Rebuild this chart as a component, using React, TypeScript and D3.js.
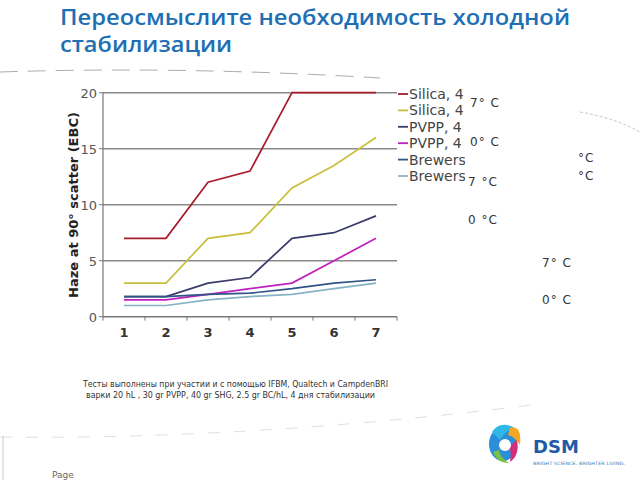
import React from "react";
import * as d3 from "d3";

const categories = ["1", "2", "3", "4", "5", "6", "7"];
const yTicks = [0, 5, 10, 15, 20];
const seriesNames = ["Silica, 4", "Silica, 4", "PVPP, 4 (", "PVPP, 4 (", "Brewers", "Brewers"];
const silica7 = [7, 7, 12, 13, 20, 20, 20];
const silica0 = [3, 3, 7, 7.5, 11.5, 13.5, 16];
const pvpp7 = [1.8, 1.8, 3, 3.5, 7, 7.5, 9];
const pvpp0 = [1.5, 1.5, 2, 2.5, 3, 5, 7];
const brewers7 = [1.8, 1.8, 2, 2.1, 2.5, 3, 3.3];
const brewers0 = [1, 1, 1.5, 1.8, 2, 2.5, 3];
const seriesColors = ["#a81c2a", "#c9bf3c", "#3b3b6e", "#c21fc0", "#2f5588", "#86b3c4"];
const tempLabels = ["7° C", "0° C", "7 °C", "0 °C", "°C", "°C", "7° C", "0° C"];

const titleLine1 = "Переосмыслите необходимость холодной";
const titleLine2 = "стабилизации";
const note1 = "Тесты выполнены при участии и с помощью IFBM, Qualtech и CampdenBRI";
const note2 = "варки 20 hL , 30 gr PVPP, 40 gr SHG, 2.5 gr BC/hL, 4 дня стабилизации";

export default function App() {
  const series = [silica7, silica0, pvpp7, pvpp0, brewers7, brewers0];
  const x0 = 103, x1 = 397, yTop = 92.7, yBot = 316.7;
  const x = d3.scaleBand().domain(categories).range([x0, x1]);
  const y = d3.scaleLinear().domain([0, 20]).range([yBot, yTop]);
  const line = d3
    .line<number>()
    .x((_, i) => (x(categories[i]) as number) + x.bandwidth() / 2)
    .y((d) => y(d));
  const font = "Verdana, 'DejaVu Sans', sans-serif";
  const tempPos = [
    [470, 107], [470, 146], [468, 186], [468, 224], [578, 162], [578, 180], [542, 267], [542, 304],
  ];
  return (
    <svg
      width={640}
      height={480}
      style={{ position: "absolute", left: 0, top: 0, background: "#fff" }}
      fontFamily={font}
    >
      <defs>
        <clipPath id="legclip">
          <rect x={380} y={80} width={85} height={110} />
        </clipPath>
      </defs>
      <rect width={640} height={480} fill="#fff" />
      {/* title */}
      <text x={60} y={25} fontSize={21} fontWeight={600} fill="#1e6fb4" fontFamily="'Open Sans', sans-serif" textLength={510} lengthAdjust="spacingAndGlyphs">
        {titleLine1}
      </text>
      <text x={60} y={52} fontSize={21} fontWeight={600} fill="#1e6fb4" fontFamily="'Open Sans', sans-serif" textLength={172} lengthAdjust="spacingAndGlyphs">
        {titleLine2}
      </text>
      {/* decorative dashed curves */}
      <path d="M0,72 Q180,66 380,78" fill="none" stroke="#888" strokeWidth={1} strokeDasharray="18 10" opacity={0.7} />
      <path d="M580,112 Q615,118 640,132" fill="none" stroke="#999" strokeWidth={0.8} strokeDasharray="3 2" opacity={0.7} />
      <path d="M0,437 Q250,440 540,404" fill="none" stroke="#bbb" strokeWidth={0.8} strokeDasharray="12 14" opacity={0.6} />
      <line x1={3} y1={436} x2={3} y2={480} stroke="#ccc" strokeWidth={1} />
      {/* gridlines */}
      {yTicks.map((t) => (
        <line key={"g" + t} x1={x0} x2={x1} y1={y(t)} y2={y(t)} stroke={t === 0 ? "#777" : "#8a8a8a"} strokeWidth={1.5} />
      ))}
      <line x1={x0} x2={x0} y1={yTop} y2={yBot} stroke="#777" strokeWidth={1.2} />
      {categories.map((c) => (
        <line key={"tk" + c} x1={x(c) as number} x2={x(c) as number} y1={yBot} y2={yBot + 4} stroke="#777" strokeWidth={1} />
      ))}
      <line x1={x1} x2={x1} y1={yBot} y2={yBot + 4} stroke="#777" strokeWidth={1} />
      {yTicks.map((t) => (
        <line key={"yt" + t} x1={x0 - 4} x2={x0} y1={y(t)} y2={y(t)} stroke="#777" strokeWidth={1} />
      ))}
      {/* y tick labels */}
      {yTicks.map((t) => (
        <text key={"yl" + t} x={97} y={y(t) + 5} fontSize={13} fill="#555" textAnchor="end">
          {t}
        </text>
      ))}
      {/* x tick labels */}
      {categories.map((c) => (
        <text key={"xl" + c} x={(x(c) as number) + x.bandwidth() / 2} y={337} fontSize={13} fontWeight="bold" fill="#333" textAnchor="middle">
          {c}
        </text>
      ))}
      <text transform="translate(78,205) rotate(-90)" fontSize={13} fontWeight="bold" fill="#222" textAnchor="middle">
        Haze at 90° scatter (EBC)
      </text>
      {/* series */}
      {series.map((s, i) => (
        <path key={"s" + i} d={line(s) as string} fill="none" stroke={seriesColors[i]} strokeWidth={1.7} />
      ))}
      {/* legend */}
      <g clipPath="url(#legclip)">
        {seriesNames.map((n, i) => (
          <g key={"lg" + i}>
            <line x1={398} x2={408} y1={94 + i * 16.4} y2={94 + i * 16.4} stroke={seriesColors[i]} strokeWidth={1.8} />
            <text x={409} y={99 + i * 16.4} fontSize={14} fill="#444" fontFamily="'DejaVu Sans', sans-serif">
              {n}
            </text>
          </g>
        ))}
      </g>
      {tempPos.map((p, i) => (
        <text key={"tl" + i} x={p[0]} y={p[1]} fontSize={12} fill="#333" fontFamily="'DejaVu Sans', sans-serif" letterSpacing={1}>
          {tempLabels[i]}
        </text>
      ))}
      {/* notes */}
      <text x={83} y={387} fontSize={8} fill="#333" textLength={305} lengthAdjust="spacingAndGlyphs">
        {note1}
      </text>
      <text x={86} y={398} fontSize={8} fill="#333" textLength={289} lengthAdjust="spacingAndGlyphs">
        {note2}
      </text>
      <text x={52} y={478} fontSize={9} fill="#666">Page</text>
      {/* DSM logo */}
      <g>
        <ellipse cx={503} cy={444} rx={14} ry={17} fill="#2a8fd8" />
        <path d="M492,432 Q500,420 515,428 Q506,430 500,440 Z" fill="#2fb7e8" />
        <path d="M510,428 Q522,425 520,445 Q514,436 508,435 Z" fill="#f5a623" />
        <path d="M517,440 Q520,455 510,462 Q512,452 509,447 Z" fill="#d62d7a" />
        <path d="M493,452 Q498,464 509,463 Q500,458 499,450 Z" fill="#7ac143" />
        <circle cx={505} cy={445} r={6} fill="#fff" />
      </g>
      <text x={533} y={453} fontSize={18} fontWeight="bold" fill="#1f5aa6">DSM</text>
      <text x={533} y={465} fontSize={4.5} fill="#3a7fc0" textLength={92} lengthAdjust="spacingAndGlyphs">
        BRIGHT SCIENCE. BRIGHTER LIVING.
      </text>
    </svg>
  );
}
